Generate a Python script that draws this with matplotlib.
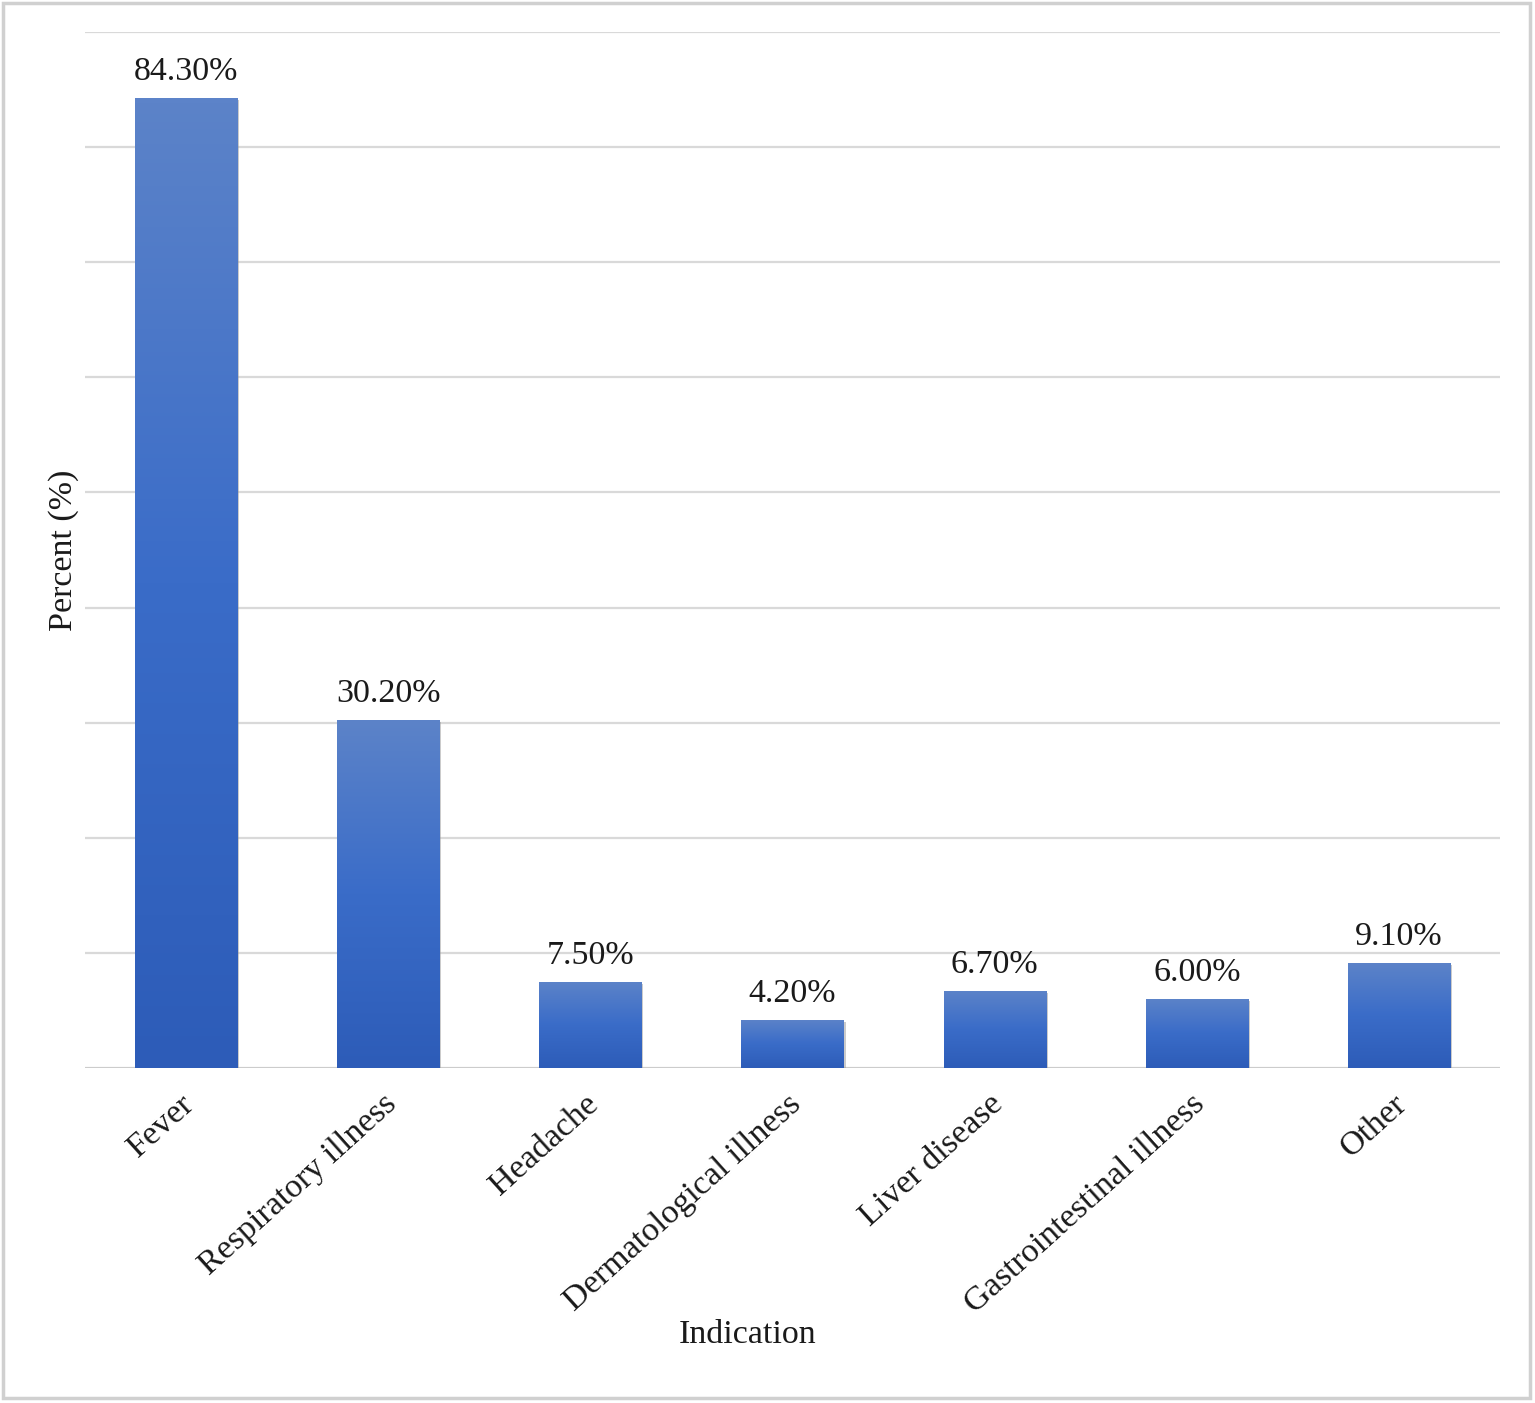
import matplotlib
matplotlib.use("Agg")
import matplotlib.pyplot as plt
import numpy as np
from matplotlib.colors import LinearSegmentedColormap
from matplotlib.patches import Rectangle
from matplotlib.transforms import ScaledTranslation
import matplotlib.patheffects as pe

categories = ["Fever", "Respiratory illness", "Headache", "Dermatological illness",
              "Liver disease", "Gastrointestinal illness", "Other"]
values = [84.3, 30.2, 7.5, 4.2, 6.7, 6.0, 9.1]
labels = ["84.30%", "30.20%", "7.50%", "4.20%", "6.70%", "6.00%", "9.10%"]

plt.rcParams['font.family'] = ['Liberation Serif', 'DejaVu Serif']

fig = plt.figure(figsize=(15.35, 14.03), dpi=100)
ax = fig.add_axes([85/1535, 1 - 1068/1403, 1415/1535, 1036/1403])

# outer frame
fig.patches.append(Rectangle((3/1535, 5/1403), 1527/1535, 1395/1403, transform=fig.transFigure,
                             fill=False, edgecolor='#d0d0d0', linewidth=2.5, zorder=0))

ax.set_xlim(-0.5, len(categories) - 0.5)
ax.set_ylim(0, 90)
ax.set_yticks(np.arange(0, 91, 10))
ax.yaxis.grid(True, color='#d9d9d9', linewidth=1.6)
ax.set_axisbelow(True)
for s in ax.spines.values():
    s.set_visible(False)
ax.axhline(0, color='#c8c8c8', linewidth=1.8, zorder=1)
ax.tick_params(axis='y', length=0, labelleft=False)

cmap = LinearSegmentedColormap.from_list('g', ['#2d5cb8', '#3a6cc8', '#5c83c9'])
x = np.arange(len(categories))
bars = ax.bar(x, values, width=0.505, color='none', edgecolor='none', zorder=2)
grad = np.linspace(0, 1, 256).reshape(-1, 1)
for b in bars:
    x0, y0 = b.get_x(), b.get_y()
    w, h = b.get_width(), b.get_height()
    sh = Rectangle((x0, y0), w, h, facecolor='#c0c0c0', edgecolor='none', zorder=1.5,
                   path_effects=[pe.SimplePatchShadow(offset=(1.5, -1.5), shadow_rgbFace='#999999', alpha=0.5)])
    ax.add_patch(sh)
    im = ax.imshow(grad, cmap=cmap, extent=[x0, x0 + w, y0, y0 + h], origin='lower',
                   aspect='auto', zorder=2, interpolation='bicubic')
    im.set_clip_path(b)

for xi, v, lab in zip(x, values, labels):
    ax.annotate(lab, (xi, v), xytext=(0, 8), textcoords='offset points',
                ha='center', va='bottom', fontsize=24.5, color='#1a1a1a')

ax.set_xticks(x)
ax.set_xticklabels(categories, rotation=42, ha='right', va='center',
                   rotation_mode='anchor', fontsize=24.5, color='#1a1a1a')
ax.tick_params(axis='x', length=0, pad=23)
offset = ScaledTranslation(4/100, 0, fig.dpi_scale_trans)
for t in ax.get_xticklabels():
    t.set_transform(t.get_transform() + offset)

ax.set_xlabel("Indication", fontsize=24.5, color='#1a1a1a')
ax.xaxis.set_label_coords((748 - 85) / 1415, -0.243)
ax.set_ylabel("Percent (%)", fontsize=24.5, color='#1a1a1a')
ax.yaxis.set_label_coords(-0.004, 0.5)

fig.savefig("out.png", dpi=100, facecolor='white')
